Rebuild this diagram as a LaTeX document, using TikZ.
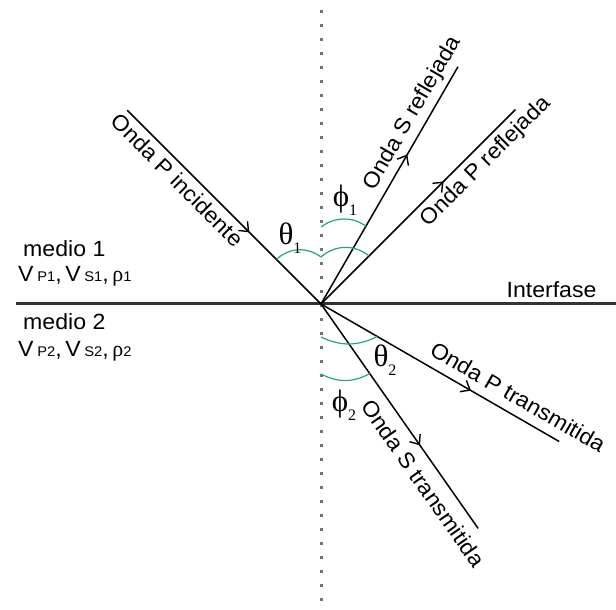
\documentclass[tikz,border=0pt]{standalone}
\usepackage{fontspec}
\setmainfont{Liberation Sans}[FakeStretch=1.05]
\newfontfamily\greekfont{Liberation Serif}
\usetikzlibrary{arrows.meta,calc,decorations.markings}

\definecolor{arcgreen}{RGB}{40,165,115}
\newcommand{\idx}[1]{\raisebox{-0.3em}{\fontsize{16}{16}\selectfont #1}}
\newcommand{\sml}[1]{{\fontsize{14}{14}\selectfont #1}}

\begin{document}
\begin{tikzpicture}[
    x=1pt, y=1pt,
    font=\fontsize{22}{26}\selectfont,
    ray/.style={
        line width=1.5pt,
        postaction={decorate},
        decoration={
            markings,
            mark=at position #1 with {\arrow{Straight Barb[length=8pt,width=13pt,line width=1.4pt]}}
        }
    },
    ray/.default=0.63,
    wavelabel/.style={
        sloped,
        inner sep=2pt
    },
    anglearc/.style={
        arcgreen,
        line width=1.2pt
    },
    greek/.style={
        font=\fontsize{31}{34}\selectfont\greekfont,
        inner sep=0pt
    },
    interface/.style={
        black!80,
        line width=3pt
    },
    normal/.style={
        black!55,
        line width=3pt,
        dash pattern=on 3pt off 11pt
    }
]
\useasboundingbox (0,0) rectangle (616,610);

% point of incidence and ray ends
\coordinate (O) at (321,306);
\coordinate (inc) at ($(O)+(135:274)$);
\coordinate (sref) at ($(O)+(60:274)$);
\coordinate (pref) at ($(O)+(45:275)$);
\coordinate (ptr) at ($(O)+(-30:275)$);
\coordinate (str) at ($(O)+(-55:274)$);

% normal and interface
\coordinate (ntop) at (321,600);
\coordinate (nbot) at (321,0);
\coordinate (ileft) at (16,306);
\coordinate (iright) at (616,306);
\draw[normal] (ntop) -- (nbot);
\draw[interface] (ileft) -- (iright);

\node[anchor=base east] (ilabel) at (600,312) {Interfase};

% media
\node[anchor=base west, inner sep=0pt] (med1) at (23,353) {medio 1};
\node[anchor=base west, inner sep=0pt] (prop1) at (18,328)
    {V\,\sml{P1},\,V\,\sml{S1},\,{\greekfont ρ}\sml{1}};
\node[anchor=base west, inner sep=0pt] (med2) at (23,280) {medio 2};
\node[anchor=base west, inner sep=0pt] (prop2) at (18,253)
    {V\,\sml{P2},\,V\,\sml{S2},\,{\greekfont ρ}\sml{2}};

% rays
\draw[ray] (inc) -- (O)
    node[wavelabel, pos=0.31, below=3pt] (linc) {Onda P incidente};
\draw[ray] (O) -- (sref)
    node[wavelabel, pos=0.77, above=3pt] (lsref) {Onda S reflejada};
\draw[ray] (O) -- (pref)
    node[wavelabel, pos=0.79, below=3pt] (lpref) {Onda P reflejada};
\draw[ray] (O) -- (ptr)
    node[wavelabel, pos=0.79, above=7pt] (lptr) {Onda P transmitida};
\draw[ray] (O) -- (str)
    node[wavelabel, pos=0.75, below=8pt] (lstr) {Onda S transmitida};

% angle marks
\coordinate (a1) at ($(O)!63pt!(inc)$);
\coordinate (a2) at ($(O)+(0,47)$);
\coordinate (a3) at ($(O)!68pt!(pref)$);
\coordinate (b1) at ($(O)+(0,77)$);
\coordinate (b2) at ($(O)!90pt!(sref)$);
\coordinate (c1) at ($(O)+(0,-33)$);
\coordinate (c2) at ($(O)!65pt!(ptr)$);
\coordinate (d1) at ($(O)+(0,-70)$);
\coordinate (d2) at ($(O)!85pt!(str)$);

\draw[anglearc] (a1) to[bend left=40] (a2);
\draw[anglearc] (a2) to[bend left=40] (a3);
\draw[anglearc] (b1) to[bend left=35] (b2);
\draw[anglearc] (c1) to[bend right=26] (c2);
\draw[anglearc] (d1) to[bend right=28] (d2);

\node[greek] (th1) at (290,372) {θ\idx{1}};
\node[greek] (ph1) at (345,410) {ϕ\idx{1}};
\node[greek] (th2) at (385,250) {θ\idx{2}};
\node[greek] (ph2) at (344,205) {ϕ\idx{2}};

\end{tikzpicture}
\end{document}
